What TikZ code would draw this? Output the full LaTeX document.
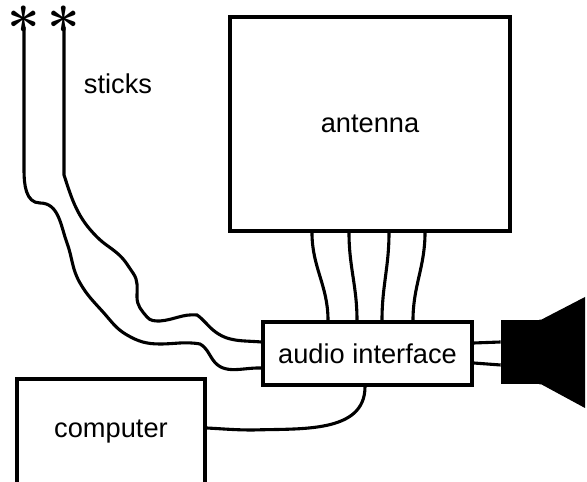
\documentclass[tikz,border=0pt]{standalone}
\usepackage{fontspec}
\setsansfont{Liberation Sans}
\tikzset{
	wire/.style={line width=.062cm},
	box/.style={draw,line width=.07cm,inner sep=0pt,font=\sffamily\fontsize{15.5}{18}\selectfont},
	label/.style={font=\sffamily\fontsize{15.5}{18}\selectfont},
	tip/.style={inner sep=0pt,font=\bfseries\fontsize{33}{33}\selectfont}
}
\begin{document}
\begin{tikzpicture}
	\useasboundingbox (0,0) rectangle (11.74,9.64);
	% boxes
	\node[box,minimum width=5.6cm,minimum height=4.28cm] (antenna) at (7.4,7.16) {antenna};
	\node[box,minimum width=4.18cm,minimum height=1.26cm] (audio) at (7.35,2.57) {audio interface};
	\node[box,minimum width=3.76cm,minimum height=2.12cm] (computer) at (2.22,1.0) {computer};
	\node[label] (sticks) at (2.36,7.96) {sticks};
	% sticks
	\node[tip] (tipa) at (.48,9.08) {*};
	\node[tip] (tipb) at (1.28,9.08) {*};
	\draw[wire] (.48,9.1) -- (.48,6.24) to[out=-90,in=180] (.8,5.58) to[out=0,in=110] (1.34,4.78)
		to[out=-70,in=120] (1.6,3.98) to[out=-60,in=132] (2.06,3.4) to[out=-48,in=150] (2.54,2.94)
		to[out=-30,in=180] (3.2,2.76) to[out=0,in=170] (4,2.76) to[out=-30,in=125] (4.26,2.44)
		to[out=-55,in=178] (audio.west |- 0,2.28);
	\draw[wire] (1.28,9.1) -- (1.28,6.14) to[out=-72,in=135] (1.94,4.9) to[out=-45,in=140] (2.34,4.58)
		to[out=-40,in=125] (2.66,4.18) to[out=-55,in=90] (2.74,3.7) to[out=-90,in=130] (2.94,3.3)
		to[out=-50,in=180] (3.2,3.22) to[out=5,in=175] (3.94,3.34) to[out=-35,in=140] (4.26,3.04)
		to[out=-40,in=175] (audio.west |- 0,2.8);
	% antenna wires
	\foreach \a/\b in {6.24/6.56,6.98/7.14,7.78/7.64,8.5/8.26}
	\draw[wire] (antenna.south -| \a,0) to[out=-90,in=90] (audio.north -| \b,0);
	% speaker
	\node[fill=black,inner sep=0pt,minimum width=.8cm,minimum height=1.28cm] (speaker) at (10.42,2.6) {};
	\fill ([xshift=-.04cm]speaker.north east) -- (speaker.north east) -- (11.7,3.7) -- (11.7,1.48) -- (speaker.south east) -- ([xshift=-.04cm]speaker.south east) -- cycle;
	\draw[wire] (audio.east |- 0,2.78) -- (speaker.west |- 0,2.8);
	\draw[wire] (audio.east |- 0,2.38) -- (speaker.west |- 0,2.34);
	% computer
	\draw[wire] (computer.east |- 0,1.08) to[out=-3,in=180] (5.06,1.04) to[out=2,in=-90] (audio.south -| 7.3,0);
\end{tikzpicture}
\end{document}
